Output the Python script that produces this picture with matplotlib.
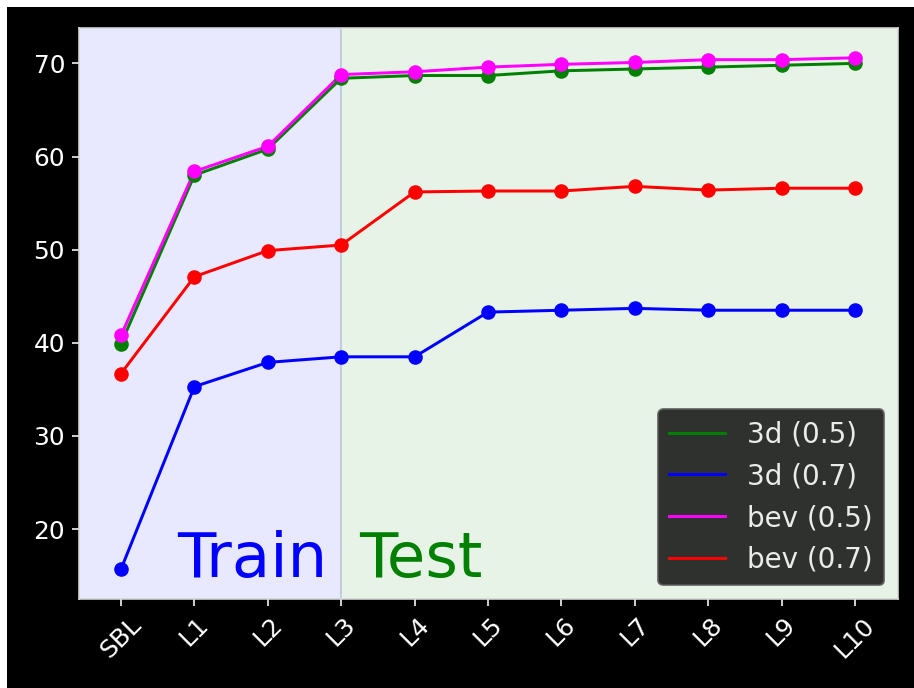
import matplotlib
matplotlib.use("Agg")
import matplotlib.pyplot as plt
from matplotlib.patches import Rectangle

plt.style.use("dark_background")

stages = ["SBL", "L1", "L2", "L3", "L4", "L5", "L6", "L7", "L8", "L9", "L10"]
ap_3d_05 = [39.9, 58.0, 60.8, 68.4, 68.7, 68.7, 69.2, 69.4, 69.6, 69.8, 70.0]
ap_3d_07 = [15.7, 35.3, 37.9, 38.5, 38.5, 43.3, 43.5, 43.7, 43.5, 43.5, 43.5]
ap_bev_05 = [40.8, 58.4, 61.1, 68.8, 69.1, 69.6, 69.9, 70.1, 70.4, 70.4, 70.6]
ap_bev_07 = [36.7, 47.1, 49.9, 50.5, 56.2, 56.3, 56.3, 56.8, 56.4, 56.6, 56.6]

series = [
    ("3d (0.5)", ap_3d_05, "green"),
    ("3d (0.7)", ap_3d_07, "blue"),
    ("bev (0.5)", ap_bev_05, "magenta"),
    ("bev (0.7)", ap_bev_07, "red"),
]

dpi = 143
fig = plt.figure(figsize=(914 / dpi, 688 / dpi), dpi=dpi, facecolor="black")
ax = fig.add_axes([79 / 914, 1 - 599 / 688, (898 - 79) / 914, (599 - 28) / 688])
ax.set_facecolor("white")

x = list(range(len(stages)))
split = stages.index("L3")

ax.axvspan(-1, split, color="blue", alpha=0.09)
ax.axvspan(split, len(stages), color="green", alpha=0.09)

for label, vals, color in series:
    ax.plot(x, vals, color=color, linewidth=1.5, label=label)
    ax.scatter(x, vals, color=color, s=40, zorder=3)

ax.text(0.76, 14.9, "Train", color="blue", fontsize=31.5)
ax.text(3.24, 14.9, "Test", color="green", fontsize=31.5)

ax.set_xlim(-0.572, 10.586)
ax.set_ylim(12.5, 73.8)
ax.set_xticks(x)
ax.set_xticklabels(stages, rotation=45)
ax.set_yticks([20, 30, 40, 50, 60, 70])
ax.tick_params(labelsize=12.5, colors="white")
for sp in ax.spines.values():
    sp.set_color("0.85")

leg = ax.legend(loc="lower right", fontsize=14, facecolor="black",
                edgecolor="0.35", framealpha=0.8)
for t in leg.get_texts():
    t.set_color("0.92")

# thin white margin along the left and top edges
fig.patches.append(Rectangle((0, 0), 7 / 914, 1, transform=fig.transFigure,
                             facecolor="white", edgecolor="none", zorder=10))
fig.patches.append(Rectangle((0, 1 - 7 / 688), 1, 7 / 688, transform=fig.transFigure,
                             facecolor="white", edgecolor="none", zorder=10))

fig.savefig("out.png", dpi=dpi, facecolor="black")
